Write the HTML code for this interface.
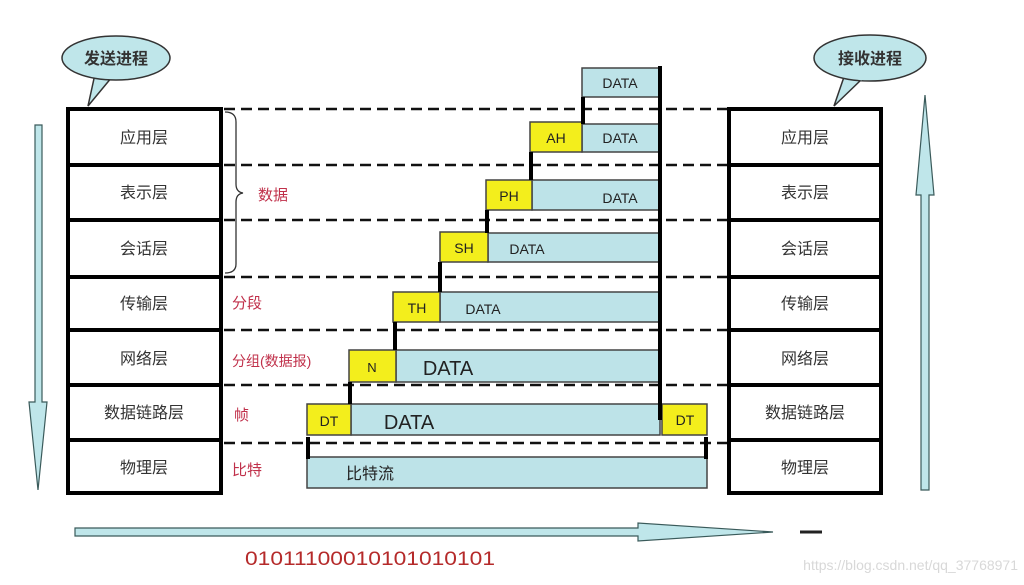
<!DOCTYPE html>
<html><head><meta charset="utf-8"><style>
html,body{margin:0;padding:0;background:#fff;}
svg{display:block;}
text{font-family:"Liberation Sans","Noto Sans CJK SC",sans-serif;}
</style></head><body>
<svg width="1024" height="585" viewBox="0 0 1024 585" xmlns="http://www.w3.org/2000/svg">
<rect width="1024" height="585" fill="#fff"/>
<!-- bubbles -->
<path d="M95 74 L88 106 L112 77 Z" fill="#bfe6ea" stroke="#333" stroke-width="1.5"/>
<ellipse cx="116" cy="58" rx="54" ry="22" fill="#bfe6ea" stroke="#333" stroke-width="1.5"/>
<path d="M92 72 L112 77" stroke="#bfe6ea" stroke-width="3"/>
<text x="116" y="64" font-size="16" text-anchor="middle" fill="#333" font-weight="bold">发送进程</text>
<path d="M845 74 L834 106 L862 79 Z" fill="#bfe6ea" stroke="#333" stroke-width="1.5"/>
<ellipse cx="870" cy="58" rx="56" ry="23" fill="#bfe6ea" stroke="#333" stroke-width="1.5"/>
<path d="M843 74 L862 79" stroke="#bfe6ea" stroke-width="3"/>
<text x="870" y="64" font-size="16" text-anchor="middle" fill="#333" font-weight="bold">接收进程</text>
<!-- dashed lines -->
<g stroke="#111" stroke-width="2.5" stroke-dasharray="11,6">
<line x1="224" y1="109" x2="727" y2="109"/>
<line x1="224" y1="165" x2="727" y2="165"/>
<line x1="224" y1="220" x2="727" y2="220"/>
<line x1="224" y1="277" x2="727" y2="277"/>
<line x1="224" y1="330" x2="727" y2="330"/>
<line x1="224" y1="385" x2="727" y2="385"/>
<line x1="224" y1="443" x2="727" y2="443"/>
</g>
<!-- stacks -->
<g fill="#fff" stroke="#000" stroke-width="4">
<rect x="68" y="109" width="153" height="384"/>
<rect x="729" y="109" width="152" height="384"/>
</g>
<g stroke="#000" stroke-width="4">
<line x1="68" y1="165" x2="221" y2="165"/><line x1="68" y1="220" x2="221" y2="220"/><line x1="68" y1="277" x2="221" y2="277"/><line x1="68" y1="330" x2="221" y2="330"/><line x1="68" y1="385" x2="221" y2="385"/><line x1="68" y1="440" x2="221" y2="440"/>
<line x1="729" y1="165" x2="881" y2="165"/><line x1="729" y1="220" x2="881" y2="220"/><line x1="729" y1="277" x2="881" y2="277"/><line x1="729" y1="330" x2="881" y2="330"/><line x1="729" y1="385" x2="881" y2="385"/><line x1="729" y1="440" x2="881" y2="440"/>
</g>
<g font-size="16" fill="#333" text-anchor="middle">
<text x="144" y="143">应用层</text><text x="144" y="198">表示层</text><text x="144" y="254">会话层</text><text x="144" y="309">传输层</text><text x="144" y="364">网络层</text><text x="144" y="418">数据链路层</text><text x="144" y="473">物理层</text>
<text x="805" y="143">应用层</text><text x="805" y="198">表示层</text><text x="805" y="254">会话层</text><text x="805" y="309">传输层</text><text x="805" y="364">网络层</text><text x="805" y="418">数据链路层</text><text x="805" y="473">物理层</text>
</g>
<!-- brace -->
<path d="M225 112 Q236 112 236 122 L236 184 Q236 192 243 193 Q236 194 236 202 L236 264 Q236 273 225 273" fill="none" stroke="#333" stroke-width="1.3"/>
<g font-size="15" fill="#c0304a">
<text x="258" y="200">数据</text>
<text x="232" y="308">分段</text>
<text x="232" y="366" font-size="14">分组(数据报)</text>
<text x="234" y="420">帧</text>
<text x="232" y="475">比特</text>
</g>
<!-- data boxes -->
<g stroke="#444" stroke-width="1.5">
<rect x="582" y="68" width="77" height="29" fill="#bde3e8"/>
<rect x="582" y="124" width="77" height="28" fill="#bde3e8"/><rect x="530" y="122" width="52" height="30" fill="#f3ee1c"/>
<rect x="532" y="180" width="127" height="30" fill="#bde3e8"/><rect x="486" y="180" width="46" height="30" fill="#f3ee1c"/>
<rect x="488" y="233" width="171" height="29" fill="#bde3e8"/><rect x="440" y="232" width="48" height="30" fill="#f3ee1c"/>
<rect x="440" y="292" width="219" height="30" fill="#bde3e8"/><rect x="393" y="292" width="47" height="30" fill="#f3ee1c"/>
<rect x="396" y="350" width="263" height="32" fill="#bde3e8"/><rect x="349" y="350" width="47" height="32" fill="#f3ee1c"/>
<rect x="351" y="404" width="309" height="31" fill="#bde3e8"/><rect x="307" y="404" width="44" height="31" fill="#f3ee1c"/>
<rect x="662" y="404" width="45" height="31" fill="#f3ee1c"/>
<rect x="307" y="457" width="400" height="31" fill="#bde3e8"/>
</g>
<!-- connectors -->
<g stroke="#000" stroke-width="4">
<line x1="660" y1="66" x2="660" y2="420"/>
<line x1="583" y1="97" x2="583" y2="124"/>
<line x1="531" y1="152" x2="531" y2="180"/>
<line x1="487" y1="210" x2="487" y2="233"/>
<line x1="440" y1="262" x2="440" y2="292"/>
<line x1="395" y1="322" x2="395" y2="350"/>
<line x1="350" y1="382" x2="350" y2="404"/>
<line x1="308" y1="437" x2="308" y2="459"/>
<line x1="706" y1="437" x2="706" y2="459"/>
</g>
<g font-size="14" fill="#222" text-anchor="middle">
<text x="620" y="88">DATA</text>
<text x="556" y="143">AH</text><text x="620" y="143">DATA</text>
<text x="509" y="201">PH</text><text x="620" y="203">DATA</text>
<text x="464" y="253">SH</text><text x="527" y="254">DATA</text>
<text x="417" y="313">TH</text><text x="483" y="314">DATA</text>
<text x="372" y="372" font-size="13">N</text><text x="448" y="375" font-size="20">DATA</text>
<text x="329" y="426">DT</text><text x="409" y="429" font-size="20">DATA</text>
<text x="685" y="425">DT</text>
<text x="370" y="479" font-size="16">比特流</text>
</g>
<!-- arrows -->
<g fill="#bfe6ea" stroke="#3a5a5a" stroke-width="1.2">
<path d="M35 125 L42 125 L42 402 L47 402 L38 490 L29 402 L35 402 Z"/>
<path d="M921 490 L929 490 L929 195 L934 195 L925 95 L916 195 L921 195 Z"/>
<path d="M75 528 L638 528 L638 523 L773 532 L638 541 L638 536 L75 536 Z"/>
</g>
<line x1="800" y1="532" x2="822" y2="532" stroke="#222" stroke-width="3"/>
<text x="245" y="565" font-size="19" fill="#b52a2a" textLength="250" lengthAdjust="spacingAndGlyphs">01011100010101010101</text>
<text x="1018" y="570" font-size="14" fill="#d8d8d8" text-anchor="end">https://blog.csdn.net/qq_37768971</text>
</svg>
</body></html>
